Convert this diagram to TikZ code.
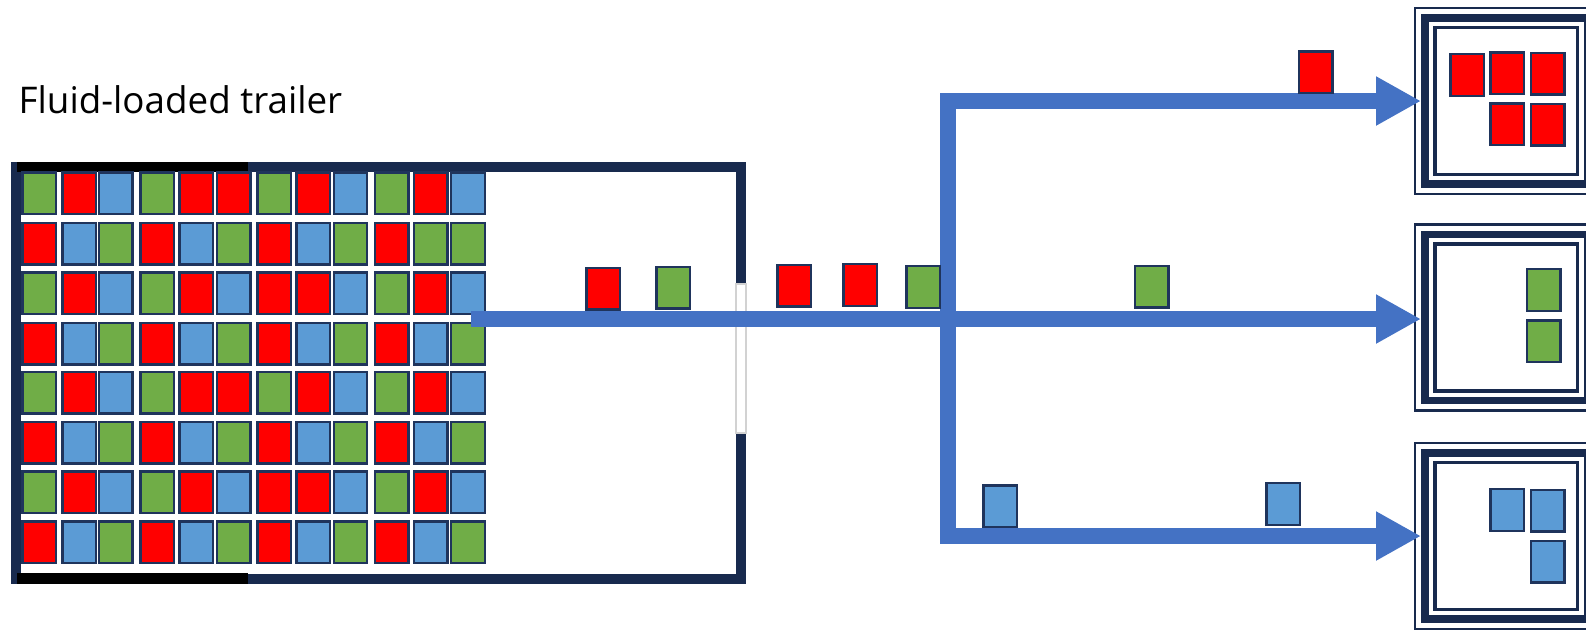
\documentclass[tikz,border=0pt]{standalone}
\usepackage{fontspec}
\newfontfamily\trailerfont{Open Sans}
\usetikzlibrary{arrows.meta}
\definecolor{wallnavy}{RGB}{24,42,78}
\definecolor{edgenavy}{RGB}{31,52,92}
\definecolor{boxr}{RGB}{255,0,0}
\definecolor{boxg}{RGB}{112,173,71}
\definecolor{boxb}{RGB}{91,155,213}
\definecolor{flowblue}{RGB}{68,114,196}

\begin{document}
\begin{tikzpicture}[x=0.01cm,y=-0.01cm,line join=miter,
 parcel/.style={draw=edgenavy,line width=0.7pt,minimum width=0.335cm,minimum height=0.415cm,inner sep=0pt,outer sep=0pt},
 wall/.style={wallnavy,line width=0.1cm},
 flow/.style={flowblue,line width=0.155cm,-{Triangle[length=0.45cm,width=0.46cm]}},
 rimout/.style={draw=wallnavy,line width=0.027cm,minimum width=1.827cm,minimum height=1.86cm,inner sep=0pt},
 rimmid/.style={draw=wallnavy,line width=0.077cm,minimum width=1.63cm,minimum height=1.66cm,inner sep=0pt},
 rimin/.style={draw=wallnavy,line width=0.035cm,minimum width=1.425cm,minimum height=1.47cm,inner sep=0pt}]
\useasboundingbox (0,0) rectangle (1586,629);
\clip (0,0) rectangle (1586,629);
\node[font=\trailerfont\fontsize{10.45}{12}\selectfont,anchor=base west,inner sep=0pt] (title) at (18,113.3) {Fluid-loaded trailer};
% trailer with open door
\draw[wall] (741,284) -- (741,167) -- (16,167) -- (16,578.5) -- (741,578.5) -- (741,433);
\fill[black] (16.5,162) rectangle (248,172);
\fill[black] (16.5,573) rectangle (248,584);
\draw[gray!35,line width=0.3pt] (736,284) rectangle (746,433);
\foreach \yy/\seq [count=\r] in {193.3/{g,r,b,g,r,r,g,r,b,g,r,b},243.5/{r,b,g,r,b,g,r,b,g,r,g,g},
 293.3/{g,r,b,g,r,b,r,r,b,g,r,b},343.5/{r,b,g,r,b,g,r,b,g,r,b,g},392.5/{g,r,b,g,r,r,g,r,b,g,r,b},
 442.5/{r,b,g,r,b,g,r,b,g,r,b,g},492.2/{g,r,b,g,r,b,r,r,b,g,r,b},542.2/{r,b,g,r,b,g,r,b,g,r,b,g}}
 \foreach \c [count=\k] in \seq {
  \pgfmathsetmacro\xx{{39.2,79.2,115.9,157.2,196.2,233.7,274.2,313.2,350.5,391.5,430.7,468}[\k-1]}
  \node[parcel,fill=box\c] (p\r-\k) at (\xx,\yy) {};
 }
% destinations
\foreach \cy/\nm in {101/dstA,317.5/dstB,536/dstC} {
 \node[rimout] (\nm-o) at (1506.4,\cy) {};
 \node[rimmid] (\nm) at (1506.4,\cy) {};
 \node[rimin] (\nm-i) at (1506.4,\cy) {};
}
\coordinate (dock) at (471,319);
\coordinate (split) at (947.8,319);
\draw[flow] (dock) -- (dock -| dstB.west);
\draw[flow,{Triangle[length=0.45cm,width=0.46cm]}-{Triangle[length=0.45cm,width=0.46cm]}]
 (dstA.west) -| (split) |- (dstC.west);
\foreach \xx/\yy/\c [count=\n] in {603.3/288.7/r,673.2/287.5/g,794.2/285.8/r,860.2/285/r,923.2/287/g,
 1151.7/286.7/g,1315.8/72.2/r,1000.2/506.2/b,1283.2/504/b}
 \node[parcel,fill=box\c] (m\n) at (\xx,\yy) {};
\foreach \xx/\yy/\c [count=\n] in {1467.2/75/r,1507/73.3/r,1547.8/73.7/r,1507/124.2/r,1547.8/124.5/r,
 1543.8/290/g,1543.8/341.2/g,1507/510/b,1547.8/510.5/b,1547.8/561.7/b}
 \node[parcel,fill=box\c] (d\n) at (\xx,\yy) {};
\end{tikzpicture}
\end{document}
